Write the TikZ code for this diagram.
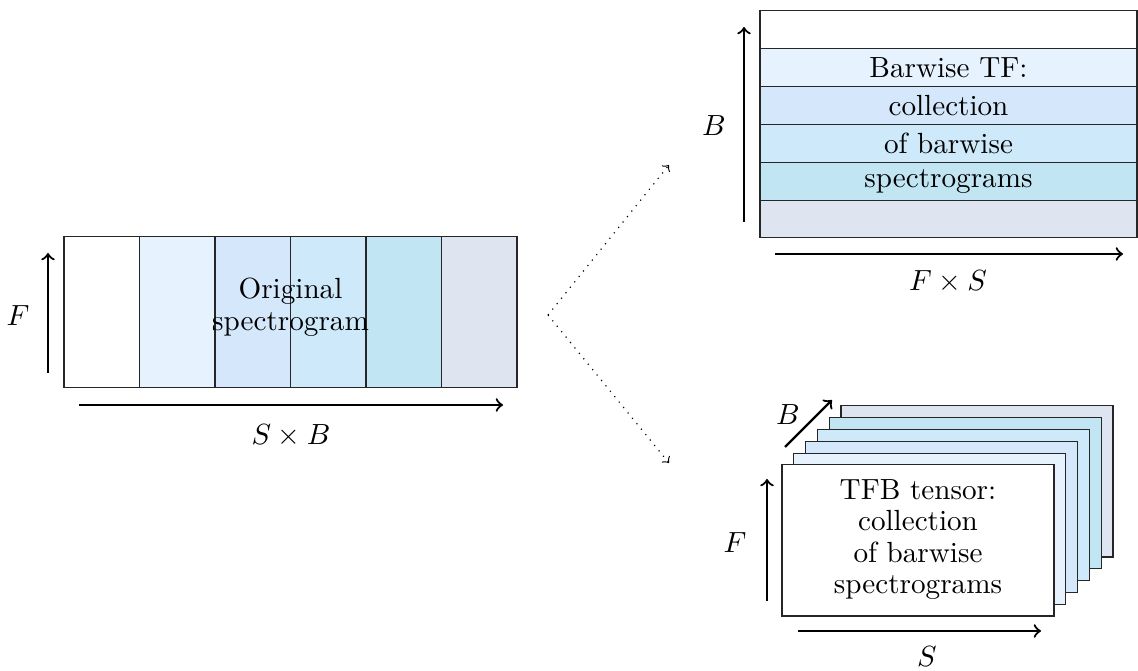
\documentclass[tikz,border=0pt]{standalone}
\definecolor{cA}{HTML}{FFFFFF}
\definecolor{cB}{HTML}{E6F2FD}
\definecolor{cC}{HTML}{D5E7FB}
\definecolor{cD}{HTML}{CEE9FA}
\definecolor{cE}{HTML}{C2E5F3}
\definecolor{cF}{HTML}{DFE5F0}
\newdimen\pu \pu=0.343pt
\begin{document}
\begin{tikzpicture}[x=\pu,y=-\pu,
  cell/.style={draw=black!85, line width=0.35pt, inner sep=0pt, outer sep=0pt, anchor=north west},
  axis/.style={->, line width=0.75pt},
  dotarrow/.style={->, dotted},
  lbl/.style={inner sep=0pt},
  txt/.style={align=center, inner sep=0pt, font=\fontsize{10}{10.8}\selectfont}]
\useasboundingbox (0,0) rectangle (1138,671);

% ---- left: original spectrogram
\foreach \i/\c in {0/cA,1/cB,2/cC,3/cD,4/cE,5/cF}
  \node[cell, fill=\c, minimum width=75.5\pu, minimum height=151\pu] (v\i) at ({64+75.5*\i},237) {};
\node[txt] (otxt) at (290.5,307) {Original\\spectrogram};
\coordinate (lfA) at (48,373);
\coordinate (lfB) at (48,253);
\draw[axis] (lfA) -- (lfB);
\node[lbl] (lF) at (18,316) {$F$};
\coordinate (lsA) at (79,405);
\coordinate (lsB) at (503,405);
\draw[axis] (lsA) -- (lsB);
\node[lbl] (lSB) at (291,436) {$S\times B$};

% ---- dotted split arrows
\coordinate (split) at (548,315);
\coordinate (toTop) at (669,165);
\coordinate (toBot) at (669,463);
\draw[dotarrow] (split) -- (toTop);
\draw[dotarrow] (split) -- (toBot);

% ---- top right: barwise TF
\foreach \i/\c/\t in {0/cA/{},1/cB/{Barwise TF:},2/cC/{collection},3/cD/{of barwise},4/cE/{spectrograms},5/cF/{}}
  \node[cell, fill=\c, minimum width=377\pu, minimum height=37.83\pu] (h\i) at (760,{11+37.83*\i}) {\t};
\coordinate (tbA) at (744,222);
\coordinate (tbB) at (744,27);
\draw[axis] (tbA) -- (tbB);
\node[lbl] (tB) at (714,126) {$B$};
\coordinate (tfA) at (775,254);
\coordinate (tfB) at (1123,254);
\draw[axis] (tfA) -- (tfB);
\node[lbl] (tFS) at (948,282) {$F\times S$};

% ---- bottom right: TFB tensor
\foreach \i/\c in {5/cF,4/cE,3/cD,2/cC,1/cB,0/cA}
  \node[cell, fill=\c, minimum width=272\pu, minimum height=151\pu] (p\i) at ({782+11.8*\i},{465-11.8*\i}) {};
\node[txt] (ptxt) at ([yshift=1\pu]p0.center) {TFB tensor:\\collection\\of barwise\\spectrograms};
\coordinate (bfA) at (767,601);
\coordinate (bfB) at (767,479);
\draw[axis] (bfA) -- (bfB);
\node[lbl] (bF) at (735,543) {$F$};
\coordinate (bsA) at (798,631);
\coordinate (bsB) at (1041,631);
\draw[axis] (bsA) -- (bsB);
\node[lbl] (bS) at (927,657) {$S$};
\coordinate (bbA) at (785,447);
\coordinate (bbB) at (832,400);
\draw[axis] (bbA) -- (bbB);
\node[lbl] (bB) at (788,415) {$B$};
\end{tikzpicture}
\end{document}
